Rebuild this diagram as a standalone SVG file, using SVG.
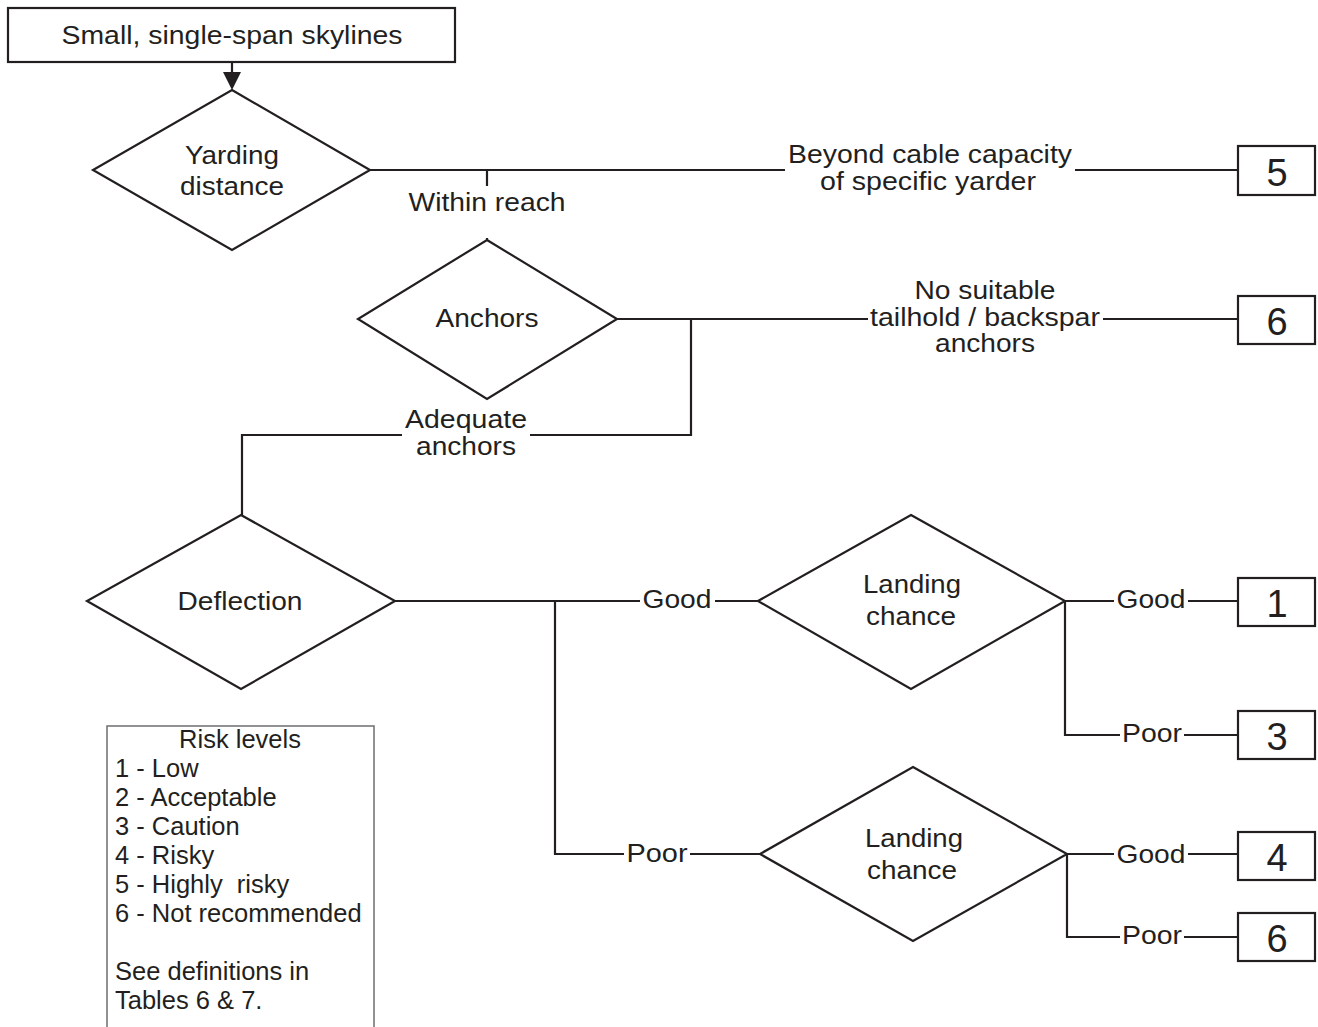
<svg xmlns="http://www.w3.org/2000/svg" width="1318" height="1027" viewBox="0 0 1318 1027">
<style>
.n{fill:#fff;stroke:#231f20;stroke-width:2.2}
.c{fill:none;stroke:#231f20;stroke-width:2.2}
text{font-family:"Liberation Sans",Arial,sans-serif;fill:#231f20}
.t{font-size:25px;text-anchor:middle}
.d{font-size:38px;text-anchor:middle}
.l{font-size:25.5px}
</style>
<rect width="1318" height="1027" fill="#fff"/>
<g id="connectors">
<path class="c" d="M232 62V74"/>
<polygon points="223,72 241,72 232,90" fill="#231f20"/>
<path class="c" d="M370 170H785M1075 170H1238M487 170V186M487 238V240"/>
<path class="c" d="M617 319H868M1103 319H1238M691 319V435H530M402 435H242V515"/>
<path class="c" d="M395 601H640M715 601H758M555 601V854H624M690 854H760"/>
<path class="c" d="M1065 601H1114M1188 601H1238M1065 601V735H1120M1184 735H1238"/>
<path class="c" d="M1067 854H1114M1188 854H1238M1067 854V937H1120M1184 937H1238"/>
<text class="t" x="487" y="211" textLength="157" lengthAdjust="spacingAndGlyphs">Within reach</text>
<text class="t" x="930" y="163" textLength="284" lengthAdjust="spacingAndGlyphs">Beyond cable capacity</text>
<text class="t" x="928" y="190" textLength="216" lengthAdjust="spacingAndGlyphs">of specific yarder</text>
<text class="t" x="985" y="299" textLength="141" lengthAdjust="spacingAndGlyphs">No suitable</text>
<text class="t" x="985" y="326" textLength="230" lengthAdjust="spacingAndGlyphs">tailhold / backspar</text>
<text class="t" x="985" y="352" textLength="100" lengthAdjust="spacingAndGlyphs">anchors</text>
<text class="t" x="466" y="428" textLength="122" lengthAdjust="spacingAndGlyphs">Adequate</text>
<text class="t" x="466" y="455" textLength="100" lengthAdjust="spacingAndGlyphs">anchors</text>
<text class="t" x="677" y="608" textLength="69" lengthAdjust="spacingAndGlyphs">Good</text>
<text class="t" x="657" y="862" textLength="61" lengthAdjust="spacingAndGlyphs">Poor</text>
<text class="t" x="1151" y="608" textLength="69" lengthAdjust="spacingAndGlyphs">Good</text>
<text class="t" x="1152" y="742" textLength="60" lengthAdjust="spacingAndGlyphs">Poor</text>
<text class="t" x="1151" y="863" textLength="69" lengthAdjust="spacingAndGlyphs">Good</text>
<text class="t" x="1152" y="944" textLength="60" lengthAdjust="spacingAndGlyphs">Poor</text>
</g>
<g id="start">
<rect class="n" x="8" y="8" width="447" height="54"/>
<text class="t" x="232" y="44" textLength="341" lengthAdjust="spacingAndGlyphs">Small, single-span skylines</text>
</g>
<g id="yarding">
<polygon class="n" points="232,90 370,170 232,250 93,170"/>
<text class="t" x="232" y="164" textLength="94" lengthAdjust="spacingAndGlyphs">Yarding</text>
<text class="t" x="232" y="195" textLength="104" lengthAdjust="spacingAndGlyphs">distance</text>
</g>
<g id="anchors">
<polygon class="n" points="487,240 617,319 487,399 358,319"/>
<text class="t" x="487" y="327" textLength="103" lengthAdjust="spacingAndGlyphs">Anchors</text>
</g>
<g id="deflection">
<polygon class="n" points="241,515 395,601 241,689 87,601"/>
<text class="t" x="240" y="610" textLength="125" lengthAdjust="spacingAndGlyphs">Deflection</text>
</g>
<g id="landing1">
<polygon class="n" points="911,515 1065,601 911,689 758,601"/>
<text class="t" x="912" y="593" textLength="98" lengthAdjust="spacingAndGlyphs">Landing</text>
<text class="t" x="911" y="625" textLength="90" lengthAdjust="spacingAndGlyphs">chance</text>
</g>
<g id="landing2">
<polygon class="n" points="913,767 1067,854 913,941 760,854"/>
<text class="t" x="914" y="847" textLength="98" lengthAdjust="spacingAndGlyphs">Landing</text>
<text class="t" x="912" y="879" textLength="90" lengthAdjust="spacingAndGlyphs">chance</text>
</g>
<g id="r5">
<rect class="n" x="1238" y="146" width="77" height="49"/>
<text class="d" x="1277" y="186">5</text>
</g>
<g id="r6a">
<rect class="n" x="1238" y="296" width="77" height="48"/>
<text class="d" x="1277" y="335">6</text>
</g>
<g id="r1">
<rect class="n" x="1238" y="578" width="77" height="48"/>
<text class="d" x="1277" y="617">1</text>
</g>
<g id="r3">
<rect class="n" x="1238" y="711" width="77" height="48"/>
<text class="d" x="1277" y="750">3</text>
</g>
<g id="r4">
<rect class="n" x="1238" y="832" width="77" height="48"/>
<text class="d" x="1277" y="871">4</text>
</g>
<g id="r6b">
<rect class="n" x="1238" y="913" width="77" height="48"/>
<text class="d" x="1277" y="952">6</text>
</g>
<g id="legend">
<rect x="107" y="726" width="267" height="310" fill="#fff" stroke="#6d6e71" stroke-width="1.5"/>
<text class="l" x="240" y="748" text-anchor="middle">Risk levels</text>
<text class="l" x="115" y="777">1 - Low</text>
<text class="l" x="115" y="806">2 - Acceptable</text>
<text class="l" x="115" y="835">3 - Caution</text>
<text class="l" x="115" y="864">4 - Risky</text>
<text class="l" x="115" y="893" xml:space="preserve">5 - Highly  risky</text>
<text class="l" x="115" y="922">6 - Not recommended</text>
<text class="l" x="115" y="980">See definitions in</text>
<text class="l" x="115" y="1009">Tables 6 &amp; 7.</text>
</g>
</svg>
